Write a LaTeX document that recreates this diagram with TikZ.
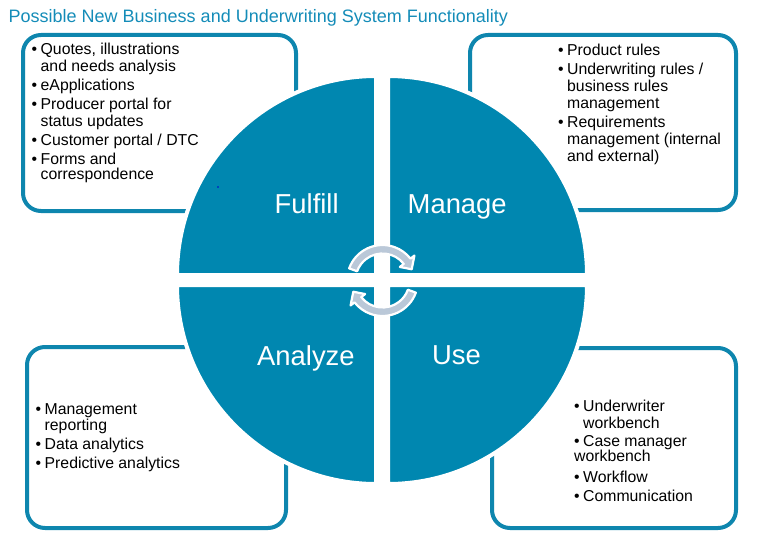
\documentclass[tikz,border=0pt]{standalone}
\usepackage{fontspec}
\setmainfont{Liberation Sans}
\definecolor{qblue}{RGB}{0,135,176}
\definecolor{tblue}{RGB}{20,140,184}
\definecolor{bblue}{RGB}{14,134,174}
\definecolor{agray}{RGB}{186,200,216}
\newcommand\bi{\makebox[9pt][l]{\textbullet}}
\newcommand\ci{\hspace*{9pt}}
\tikzset{
  infobox/.style={draw=bblue, line width=4pt, rounded corners=18pt, fill=white},
  quad/.style={fill=qblue, draw=white, line width=4pt},
  qlabel/.style={anchor=base west, inner sep=0pt, text=white, font=\fontsize{27.4}{30}\selectfont},
  btext/.style={anchor=base west, inner sep=0pt, text=black, font=\fontsize{15.8}{17}\selectfont},
  cyc/.style={fill=agray, draw=white, line width=2.2pt, line join=round},
}
\begin{document}
\begin{tikzpicture}[x=1pt,y=-1pt]
\useasboundingbox (0,0) rectangle (758,543);
% title
\node[anchor=base west, inner sep=0pt, text=tblue, font=\fontsize{18}{20}\selectfont] (title) at (8.5,22.7) {Possible New Business and Underwriting System Functionality};
% boxes
\draw[infobox] (23,35) rectangle (296,211);
\draw[infobox] (470,35) rectangle (736,210);
\draw[infobox] (27,347) rectangle (286,528);
\draw[infobox] (492,348) rectangle (736,528);
% quadrants
\path[quad] (376,275) -- (177,275) arc[start angle=180, end angle=270, radius=199] -- cycle;
\path[quad] (388,275) -- (388,76) arc[start angle=270, end angle=360, radius=199] -- cycle;
\path[quad] (388,285) -- (587,285) arc[start angle=0, end angle=90, radius=199] -- cycle;
\path[quad] (376,285) -- (376,484) arc[start angle=90, end angle=180, radius=199] -- cycle;
% cycle arrows
\begin{scope}[shift={(382.5,280.5)}]
\path[cyc] (200:35.5) arc[start angle=200, end angle=322, radius=35.5] -- (322:40.5) -- (339:31.3) -- (322:22) -- (322:27) arc[start angle=322, end angle=200, radius=27] -- cycle;
\path[cyc] (20:35.5) arc[start angle=20, end angle=142, radius=35.5] -- (142:40.5) -- (159:31.3) -- (142:22) -- (142:27) arc[start angle=142, end angle=20, radius=27] -- cycle;
\end{scope}
% stray dot
\fill[blue!80!black] (218,187) circle (0.9);
% quadrant labels
\node[qlabel] (fulfill) at (274.5,213) {Fulfill};
\node[qlabel] (manage) at (407.5,213) {Manage};
\node[qlabel] (analyze) at (257,365) {Analyze};
\node[qlabel] (use) at (432,364) {Use};
% box texts
\node[btext] (tltext) at (31.5,54.3) {\parbox[t]{260pt}{\raggedright
\bi Quotes, illustrations\\
\ci and needs analysis\\[2pt]
\bi eApplications\\[2pt]
\bi Producer portal for\\
\ci status updates\\[2pt]
\bi Customer portal / DTC\\[2pt]
\bi Forms and\\[-2pt]
\ci correspondence}};
\node[btext] (trtext) at (558,56) {\parbox[t]{175pt}{\raggedright
\bi Product rules\\[2pt]
\bi Underwriting rules /\\
\ci business rules\\
\ci management\\[2pt]
\bi Requirements\\
\ci management (internal\\
\ci and external)}};
\node[btext] (bltext) at (35.5,414) {\parbox[t]{240pt}{\raggedright
\bi Management\\[-1pt]
\ci reporting\\[2pt]
\bi Data analytics\\[2pt]
\bi Predictive analytics}};
\node[btext] (brtext) at (574,411) {\parbox[t]{160pt}{\raggedright
\bi Underwriter\\
\ci workbench\\[1pt]
\bi Case manager\\[-2pt]
workbench\\[4pt]
\bi Workflow\\[2pt]
\bi Communication}};
\end{tikzpicture}
\end{document}
